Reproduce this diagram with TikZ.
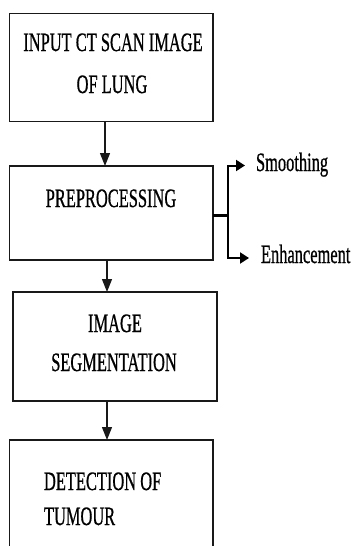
\documentclass[tikz,border=0pt]{standalone}
\usepackage{fontspec}
\setmainfont{Liberation Serif}
\usetikzlibrary{arrows.meta}
\newcommand{\sqz}[1]{\scalebox{0.62}[1]{#1}}
\begin{document}
\begin{tikzpicture}[x=1pt,y=-1pt,
  box/.style={draw=black!90,line width=1.4pt,inner sep=0pt,outer sep=0pt,minimum width=203.5pt},
  lbl/.style={inner sep=0pt,outer sep=0pt,anchor=base,font=\fontsize{26.5}{30}\selectfont\addfontfeatures{FakeBold=0.9}},
  arr/.style={draw=black!90,line width=1.4pt,-{Triangle[length=13pt,width=10pt]}},
  barr/.style={draw=black,line width=2pt,-{Triangle[length=9pt,width=11pt]}}]
\useasboundingbox (0,0) rectangle (352,546);
\clip (0,0) rectangle (352,546);
% boxes
\node[box,minimum height=108pt] (b1) at (111.25,67.5) {};
\node[box,minimum height=94pt] (b2) at (111.25,213) {};
\node[box,minimum height=109pt,minimum width=204pt] (b3) at (115,346.5) {};
\node[box,minimum height=130pt] (b4) at (111.25,505) {};
% texts
\node[lbl] (t1a) at (113,51) {\sqz{INPUT CT SCAN IMAGE}};
\node[lbl] (t1b) at (112,93) {\sqz{OF LUNG}};
\node[lbl] (t2) at (111,207) {\sqz{PREPROCESSING}};
\node[lbl] (t3a) at (115,332) {\sqz{IMAGE}};
\node[lbl] (t3b) at (114,371) {\sqz{SEGMENTATION}};
\node[lbl,anchor=base west] (t4a) at (44,490) {\sqz{DETECTION OF}};
\node[lbl,anchor=base west] (t4b) at (44,525) {\sqz{TUMOUR}};
\node[lbl,anchor=base west] (s) at (256,171) {\sqz{Smoothing}};
\node[lbl,anchor=base west] (e) at (261,263) {\sqz{Enhancement}};
% branch
\coordinate (j) at (228,215.5);
\coordinate (js) at (228,165.5);
\coordinate (je) at (228,258);
\draw[line width=3pt] (b2.east |- j) -- (j);
\draw[line width=2pt] ([yshift=-1pt]js) -- ([yshift=1pt]je);
\draw[barr] ([xshift=-1pt]js) -- (js -| 245,0);
\draw[barr] ([xshift=-1pt]je) -- (je -| 249,0);
% main arrows
\draw[arr] (105,0 |- b1.south) -- (105,0 |- b2.north);
\draw[arr] (107,0 |- b2.south) -- (107,0 |- b3.north);
\draw[arr] (107,0 |- b3.south) -- (107,0 |- b4.north);
\end{tikzpicture}
\end{document}
